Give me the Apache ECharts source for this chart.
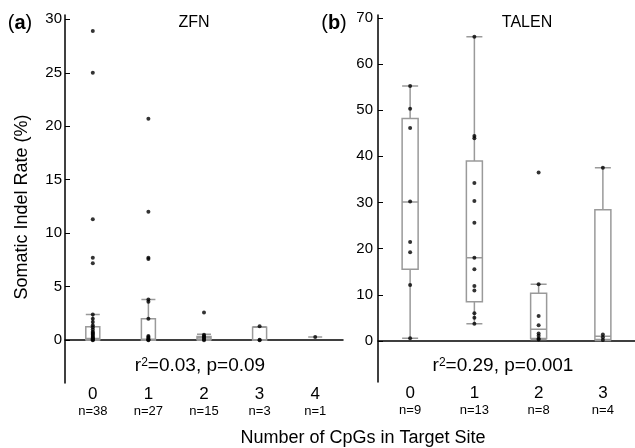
<!DOCTYPE html>
<html>
<head>
<meta charset="utf-8">
<script src="https://cdn.jsdelivr.net/npm/echarts@6/dist/echarts.min.js"></script>
<style>
  html, body { margin: 0; padding: 0; background: #fff; }
  #chart { width: 635px; height: 448px; }
</style>
</head>
<body>
<div id="chart"></div>
<script>
// ZFN panel (a)
const catsA = ["0", "1", "2", "3", "4"]
const countsA = [38, 27, 15, 3, 1]
// [lower whisker, Q1, median, Q3, upper whisker]
const boxA = [
  [0, 0.05, 0.15, 1.25, 2.4],
  [0, 0, 0.1, 2.0, 3.8],
  [0, 0.05, 0.2, 0.35, 0.55],
  [0, 0, 0.05, 1.2, 1.25],
  [0.3, 0.3, 0.3, 0.3, 0.3]
]
const pointsA = [
  [28.9, 25.0, 11.3, 7.7, 7.2, 2.4, 2.0, 1.7, 1.4, 1.2, 1.0, 0.8, 0.7, 0.6, 0.5, 0.4, 0.3, 0.2, 0.15, 0.1, 0.05, 0],
  [20.7, 12.0, 7.7, 7.6, 3.8, 3.6, 2.0, 0.4, 0.3, 0.2, 0.1, 0.05, 0],
  [2.6, 0.5, 0.4, 0.3, 0.2, 0.1, 0],
  [1.3, 0.05, 0],
  [0.3]
]
// TALEN panel (b)
const catsB = ["0", "1", "2", "3"]
const countsB = [9, 13, 8, 4]
const boxB = [
  [0.6, 15.5, 30.1, 48.2, 55.2],
  [3.7, 8.5, 18.0, 39.0, 65.9],
  [0.3, 0.5, 2.5, 10.3, 12.3],
  [0.1, 0.3, 1.0, 28.4, 37.5]
]
const pointsB = [
  [55.2, 50.3, 46.1, 30.2, 21.4, 19.2, 12.1, 0.6],
  [65.9, 44.4, 43.9, 34.2, 30.3, 25.6, 18.0, 15.5, 11.9, 10.9, 6.0, 5.0, 3.7],
  [36.5, 12.3, 5.4, 3.4, 1.6, 1.1, 0.5, 0.3],
  [37.5, 1.4, 0.8, 0.2]
]
const ticksA = [0, 5, 10, 15, 20, 25, 30]
const ticksB = [0, 10, 20, 30, 40, 50, 60, 70]

const FONT = "Liberation Sans, Arial, sans-serif"
const chart = echarts.init(document.getElementById("chart"), null, { renderer: "canvas" })

const flat = (pts) => pts.flatMap((vals, i) => vals.map(v => [i, v]))

const xAxisCfg = (cats, counts, idx) => ({
  type: "category",
  gridIndex: idx,
  data: cats,
  axisLine: { lineStyle: { color: "#000", width: 1.5 } },
  axisTick: { show: false },
  axisLabel: {
    interval: 0,
    margin: 3,
    color: "#000",
    fontFamily: FONT,
    formatter: (v, i) => `{c|${v}}\n{n|n=${counts[i]}}`,
    rich: {
      c: { fontSize: 17, lineHeight: 17, fontFamily: FONT, color: "#000" },
      n: { fontSize: 13, lineHeight: 17, fontFamily: FONT, color: "#000" }
    }
  }
})

const yAxisCfg = (idx, min, max, ticks, margin) => ({
  type: "value",
  gridIndex: idx,
  min: min,
  max: max,
  splitLine: { show: false },
  axisLine: { show: true, lineStyle: { color: "#000", width: 1.5 } },
  axisTick: { show: true, inside: true, length: 5, customValues: ticks, lineStyle: { color: "#000" } },
  axisLabel: { customValues: ticks, color: "#000", fontSize: 15, fontFamily: FONT, margin: margin }
})

const boxStyle = { color: "#fff", borderColor: "#9a9a9a", borderWidth: 1.5 }

let option = {
  animation: false,
  textStyle: { fontFamily: FONT },
  grid: [
    { left: 65, top: 15, width: 278, height: 368 },
    { left: 378, top: 15, width: 257, height: 367 }
  ],
  xAxis: [xAxisCfg(catsA, countsA, 0), xAxisCfg(catsB, countsB, 1)],
  yAxis: [yAxisCfg(0, -4, 30.4, ticksA, 3), yAxisCfg(1, -8.9, 70.6, ticksB, 5)],
  series: [
    {
      type: "boxplot", xAxisIndex: 0, yAxisIndex: 0,
      boxWidth: [14, 14], itemStyle: boxStyle, data: boxA
    },
    {
      type: "scatter", xAxisIndex: 0, yAxisIndex: 0, z: 5,
      symbolSize: 4, itemStyle: { color: "#000" }, data: flat(pointsA)
    },
    {
      type: "boxplot", xAxisIndex: 1, yAxisIndex: 1,
      boxWidth: [16, 16], itemStyle: boxStyle, data: boxB
    },
    {
      type: "scatter", xAxisIndex: 1, yAxisIndex: 1, z: 5,
      symbolSize: 4, itemStyle: { color: "#000" }, data: flat(pointsB)
    }
  ],
  graphic: [
    {
      type: "text", x: 20, y: 23,
      style: {
        text: "({b|a})", fill: "#000", font: "20px " + FONT, align: "center", verticalAlign: "middle",
        rich: { b: { fontWeight: "bold", fontSize: 20, fontFamily: FONT } }
      }
    },
    {
      type: "text", x: 334, y: 23,
      style: {
        text: "({b|b})", fill: "#000", font: "20px " + FONT, align: "center", verticalAlign: "middle",
        rich: { b: { fontWeight: "bold", fontSize: 20, fontFamily: FONT } }
      }
    },
    { type: "text", x: 194, y: 23, style: { text: "ZFN", fill: "#000", font: "16px " + FONT, align: "center", verticalAlign: "middle" } },
    { type: "text", x: 527, y: 23, style: { text: "TALEN", fill: "#000", font: "16px " + FONT, align: "center", verticalAlign: "middle" } },
    {
      type: "text", x: 200, y: 366,
      style: {
        text: "r{s|2}=0.03, p=0.09", fill: "#000", font: "19px " + FONT, align: "center", verticalAlign: "middle",
        rich: { s: { fontSize: 12, verticalAlign: "top", fontFamily: FONT } }
      }
    },
    {
      type: "text", x: 503, y: 366,
      style: {
        text: "r{s|2}=0.29, p=0.001", fill: "#000", font: "19px " + FONT, align: "center", verticalAlign: "middle",
        rich: { s: { fontSize: 12, verticalAlign: "top", fontFamily: FONT } }
      }
    },
    {
      type: "text", x: 22, y: 207, rotation: Math.PI / 2,
      style: { text: "Somatic Indel Rate (%)", fill: "#000", font: "18px " + FONT, align: "center", verticalAlign: "middle" }
    },
    {
      type: "text", x: 363, y: 438,
      style: { text: "Number of CpGs in Target Site", fill: "#000", font: "18px " + FONT, align: "center", verticalAlign: "middle" }
    }
  ]
}
chart.setOption(option)
</script>
</body>
</html>
